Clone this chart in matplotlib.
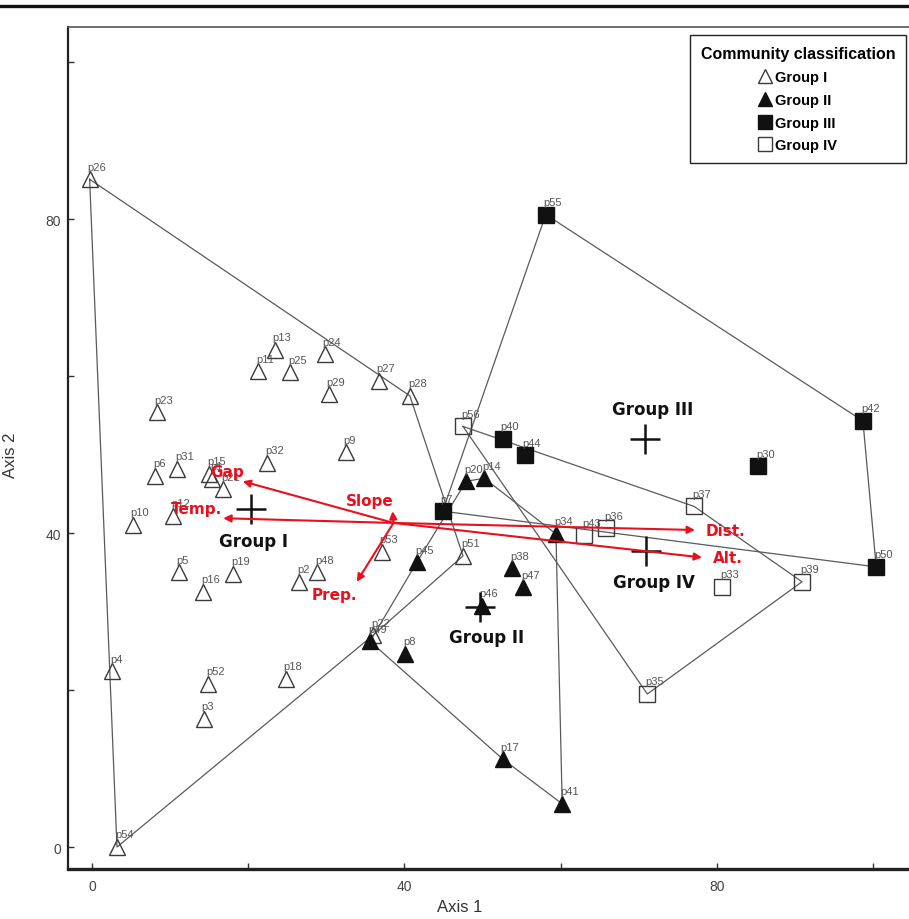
import matplotlib
matplotlib.use('Agg')
import matplotlib.pyplot as plt
from matplotlib.lines import Line2D

# ---- data ----
# Group I (open triangles)
g1_names = ['p1', 'p2', 'p3', 'p4', 'p5', 'p6', 'p9', 'p10', 'p11', 'p12', 'p13',
            'p15', 'p16', 'p18', 'p19', 'p21', 'p22', 'p23', 'p24', 'p25', 'p26',
            'p27', 'p28', 'p29', 'p31', 'p32', 'p48', 'p51', 'p52', 'p53', 'p54']
g1_x = [15.4, 26.5, 14.3, 2.6, 11.1, 8.1, 32.5, 5.2, 21.3, 10.4, 23.4,
        15.0, 14.2, 24.8, 18.1, 16.8, 36.0, 8.3, 29.8, 25.4, -0.3,
        36.7, 40.7, 30.3, 10.9, 22.4, 28.8, 47.5, 14.9, 37.1, 3.2]
g1_y = [46.9, 33.8, 16.3, 22.4, 35.0, 47.3, 50.3, 41.1, 60.6, 42.2, 63.4,
        47.6, 32.5, 21.4, 34.8, 45.6, 27.0, 55.4, 62.8, 60.5, 85.1,
        59.4, 57.5, 57.7, 48.2, 49.0, 35.0, 37.1, 20.8, 37.6, 0.0]

# Group II (filled triangles)
g2_names = ['p8', 'p14', 'p17', 'p20', 'p34', 'p38', 'p41', 'p45', 'p46', 'p47', 'p49']
g2_x = [40.1, 50.2, 52.6, 47.9, 59.4, 53.8, 60.2, 41.6, 49.9, 55.2, 35.6]
g2_y = [24.6, 47.0, 11.2, 46.6, 39.9, 35.5, 5.5, 36.3, 30.7, 33.1, 26.2]

# Group III (filled squares)
g3_names = ['p7', 'p30', 'p40', 'p42', 'p44', 'p50', 'p55']
g3_x = [44.9, 85.3, 52.6, 98.7, 55.4, 100.4, 58.1]
g3_y = [42.8, 48.5, 52.0, 54.3, 49.9, 35.7, 80.6]

# Group IV (open squares)
g4_names = ['p33', 'p35', 'p36', 'p37', 'p39', 'p43', 'p56']
g4_x = [80.7, 71.1, 65.8, 77.1, 90.9, 63.0, 47.5]
g4_y = [33.2, 19.5, 40.6, 43.4, 33.8, 39.7, 53.6]

group_labels = ['Group I', 'Group II', 'Group III', 'Group IV']

# environmental vectors (tips), all drawn from one origin
vec_names = ['Gap', 'Temp.', 'Slope', 'Prep.', 'Dist.', 'Alt.']
vec_x = [19.3, 16.8, 38.5, 33.9, 77.2, 78.1]
vec_y = [46.6, 41.9, 42.8, 33.8, 40.4, 36.9]
vec_origin = (38.6, 41.3)

x_ticks = [0, 20, 40, 60, 80, 100]
y_ticks = [0, 20, 40, 60, 80, 100]
tick_text = {0: '0', 40: '40', 80: '80'}


def convex_hull(xs, ys):
    pts = sorted(set(zip(xs, ys)))

    def cross(o, a, b):
        return (a[0] - o[0]) * (b[1] - o[1]) - (a[1] - o[1]) * (b[0] - o[0])

    lower = []
    for p in pts:
        while len(lower) >= 2 and cross(lower[-2], lower[-1], p) <= 0:
            lower.pop()
        lower.append(p)
    upper = []
    for p in reversed(pts):
        while len(upper) >= 2 and cross(upper[-2], upper[-1], p) <= 0:
            upper.pop()
        upper.append(p)
    h = lower[:-1] + upper[:-1]
    h.append(h[0])
    return [p[0] for p in h], [p[1] for p in h]


BOLD_FONT = 'DejaVu Sans'
SMALL_FONT = 'Liberation Sans'
RED = '#e8101e'
EDGE = '#3a3a3a'

fig = plt.figure(figsize=(9.09, 9.20), dpi=100)
ax = fig.add_axes([68 / 909, 50 / 920, 841 / 909, 842 / 920])
ax.set_xlim(-3.07, 104.6)
ax.set_ylim(-2.8, 104.5)

groups = [
    (g1_names, g1_x, g1_y, '^', 'none', EDGE),
    (g2_names, g2_x, g2_y, '^', '#111111', '#111111'),
    (g3_names, g3_x, g3_y, 's', '#111111', '#111111'),
    (g4_names, g4_x, g4_y, 's', 'none', EDGE),
]

for names, xs, ys, mk, fc, ec in groups:
    hx, hy = convex_hull(xs, ys)
    ax.plot(hx, hy, color='#5a5a5a', lw=0.9, zorder=2)
    ms = 11 if mk == '^' else 11.5
    ax.plot(xs, ys, ls='none', marker=mk, ms=ms, mfc=fc, mec=ec, mew=1.0, zorder=3)
    for n, x, y in zip(names, xs, ys):
        ax.annotate(n, (x, y), xytext=(-1.5, 5.5), textcoords='offset points',
                    ha='left', va='bottom', fontsize=8, color='#555555',
                    family=SMALL_FONT, zorder=4)

# group centroids and their labels
label_offsets = [(2, -23), (5, -22), (6, 22), (6, -22)]
for (names, xs, ys, *_), lab, off in zip(groups, group_labels, label_offsets):
    cx = sum(xs) / len(xs)
    cy = sum(ys) / len(ys)
    ax.plot(cx, cy, marker='+', ms=22, mew=1.8, color='#111111', ls='none', zorder=5)
    ax.annotate(lab, (cx, cy), xytext=off, textcoords='offset points',
                ha='center', va='center', fontsize=12, fontweight='bold',
                color='#111111', family=BOLD_FONT, zorder=6)

# environmental vectors
vec_text_offsets = {
    'Gap': ((-11.5, 7), 'center'),
    'Temp.': ((-19, 7), 'center'),
    'Slope': ((-16.5, 8), 'center'),
    'Prep.': ((-16, -9), 'center'),
    'Dist.': ((8, 0), 'left'),
    'Alt.': ((8, 0), 'left'),
}
for n, x, y in zip(vec_names, vec_x, vec_y):
    ax.annotate('', xy=(x, y), xytext=vec_origin,
                arrowprops=dict(arrowstyle='-|>', color=RED, lw=1.5,
                                mutation_scale=11, shrinkA=0, shrinkB=0),
                zorder=7)
    off, ha = vec_text_offsets[n]
    ax.annotate(n, (x, y), xytext=off, textcoords='offset points',
                ha=ha, va='center', fontsize=11, fontweight='bold',
                color=RED, family=BOLD_FONT, zorder=8)

# axes styling
ax.set_xticks(x_ticks)
ax.set_xticklabels([tick_text.get(t, '') for t in x_ticks])
ax.set_yticks(y_ticks)
ax.set_yticklabels([tick_text.get(t, '') for t in y_ticks])
ax.tick_params(direction='in', length=4, width=1, colors='#333333',
               labelsize=10, labelcolor='#444444')
ax.tick_params(axis='x', pad=7)
ax.tick_params(axis='y', pad=5)
for lbl in ax.get_xticklabels() + ax.get_yticklabels():
    lbl.set_family(SMALL_FONT)

ax.spines['right'].set_visible(False)
ax.spines['left'].set_linewidth(1.6)
ax.spines['left'].set_color('#222222')
ax.spines['bottom'].set_linewidth(2.4)
ax.spines['bottom'].set_color('#222222')
ax.spines['top'].set_linewidth(1.2)
ax.spines['top'].set_color('#555555')

ax.set_xlabel('Axis 1', fontsize=12, family=SMALL_FONT, color='#333333')
ax.set_ylabel('Axis 2', fontsize=12, family=SMALL_FONT, color='#333333')
ax.xaxis.set_label_coords(0.466, -0.036)
ax.yaxis.set_label_coords(-0.059, 0.493)

# legend
handles = [
    Line2D([], [], ls='none', marker='^', ms=10, mfc='none', mec=EDGE, label='Group I'),
    Line2D([], [], ls='none', marker='^', ms=10, mfc='#111111', mec='#111111', label='Group II'),
    Line2D([], [], ls='none', marker='s', ms=10, mfc='#111111', mec='#111111', label='Group III'),
    Line2D([], [], ls='none', marker='s', ms=10, mfc='none', mec=EDGE, label='Group IV'),
]
leg = ax.legend(handles=handles, title='Community classification', loc='upper right',
                bbox_to_anchor=(0.997, 0.99), borderaxespad=0, fancybox=False,
                framealpha=1, edgecolor='#222222', handlelength=0.8,
                handletextpad=0.3, labelspacing=0.6, borderpad=0.75,
                prop={'family': SMALL_FONT, 'weight': 'bold', 'size': 10.5},
                title_fontproperties={'family': SMALL_FONT, 'weight': 'bold', 'size': 11.5})
leg.get_frame().set_linewidth(1.0)
leg.set_zorder(10)

# thick rule across the top of the figure
fig.add_artist(Line2D([0, 1], [1 - 7 / 920, 1 - 7 / 920], color='#111111', lw=2.4,
                      transform=fig.transFigure))

fig.savefig('out.png', dpi=100)
